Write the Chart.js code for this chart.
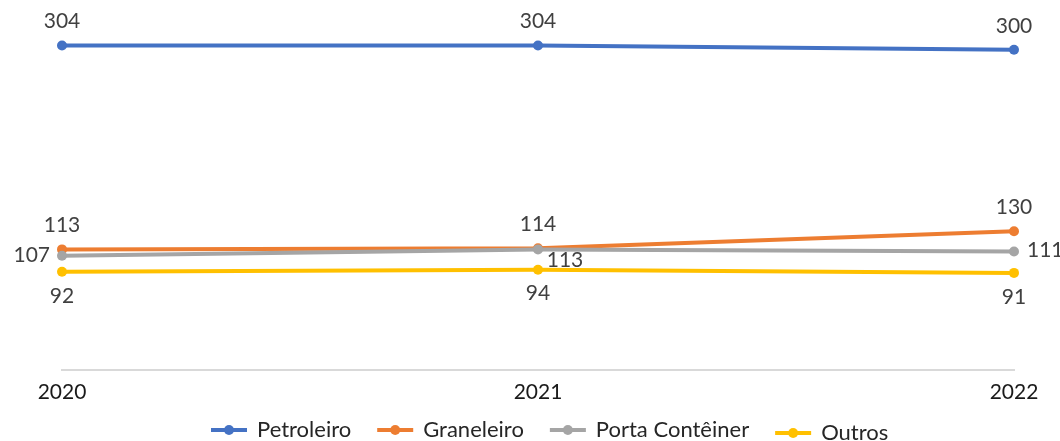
<!DOCTYPE html>
<html>
<head>
<meta charset="utf-8">
<script src="https://cdn.jsdelivr.net/npm/chart.js@4/dist/chart.umd.min.js"></script>
<style>
  html, body { margin: 0; padding: 0; background: #fff; }
  #wrap { width: 1060px; height: 441px; position: relative; }
</style>
</head>
<body>
<div id="wrap"><canvas id="c" width="1060" height="441"></canvas></div>
<script>
const categories = ['2020', '2021', '2022'];
const seriesNames = ['Petroleiro', 'Graneleiro', 'Porta Contêiner', 'Outros'];
const petroleiro = [304, 304, 300];
const graneleiro = [113, 114, 130];
const portaConteiner = [107, 113, 111];
const outros = [92, 94, 91];

const colors = ['#4472C4', '#ED7D31', '#A5A5A5', '#FFC000'];
const FONT = 'Lato, "Open Sans", sans-serif';

// label placement per dataset / per point (styling only)
const labelPlacement = [
  ['top', 'top', 'top'],
  ['top', 'top', 'top'],
  ['left', 'custom', 'right'],
  ['bottom', 'bottom', 'bottom']
];

const labelPlugin = {
  id: 'valueLabels',
  afterDatasetsDraw(chart) {
    const ctx = chart.ctx;
    ctx.save();
    ctx.font = '21px ' + FONT;
    ctx.fillStyle = '#404040';
    chart.data.datasets.forEach((ds, di) => {
      const meta = chart.getDatasetMeta(di);
      meta.data.forEach((pt, i) => {
        const v = ds.data[i];
        const pos = labelPlacement[di][i];
        let x = pt.x, y = pt.y;
        ctx.textBaseline = 'middle';
        if (pos === 'top') { ctx.textAlign = 'center'; y -= 24; }
        else if (pos === 'bottom') { ctx.textAlign = 'center'; y += 24; }
        else if (pos === 'left') { ctx.textAlign = 'right'; x -= 12; y -= 1; }
        else if (pos === 'right') { ctx.textAlign = 'left'; x += 13; y -= 1; }
        else { ctx.textAlign = 'center'; x += 27; y += 11; }
        ctx.fillText(String(v), x, y);
      });
    });
    ctx.restore();
  }
};

const legendPlugin = {
  id: 'customLegend',
  afterDraw(chart) {
    const ctx = chart.ctx;
    ctx.save();
    ctx.font = '22px ' + FONT;
    ctx.textBaseline = 'middle';
    ctx.textAlign = 'left';
    let x = 211;
    seriesNames.forEach((name, i) => {
      const y = i === 3 ? 433 : 430;
      ctx.strokeStyle = colors[i];
      ctx.lineWidth = 4;
      ctx.beginPath();
      ctx.moveTo(x, y);
      ctx.lineTo(x + 36, y);
      ctx.stroke();
      ctx.fillStyle = colors[i];
      ctx.beginPath();
      ctx.arc(x + 18, y, 5, 0, Math.PI * 2);
      ctx.fill();
      ctx.fillStyle = '#262626';
      ctx.fillText(name, x + 46, y);
      x += 46 + ctx.measureText(name).width + 26;
    });
    ctx.restore();
  }
};

const seriesData = [petroleiro, graneleiro, portaConteiner, outros];

new Chart(document.getElementById('c'), {
  type: 'line',
  data: {
    labels: categories,
    datasets: seriesData.map((d, i) => ({
      label: seriesNames[i],
      data: d,
      borderColor: colors[i],
      backgroundColor: colors[i],
      borderWidth: 4,
      pointRadius: 5,
      pointBorderWidth: 0,
      pointBackgroundColor: colors[i],
      tension: 0,
      fill: false,
      order: 4 - i
    }))
  },
  options: {
    responsive: false,
    animation: false,
    devicePixelRatio: 1,
    layout: { padding: { left: 62, right: 46, top: 0, bottom: 31 } },
    plugins: { legend: { display: false }, tooltip: { enabled: false } },
    scales: {
      x: {
        offset: false,
        grid: { display: false, drawTicks: false },
        border: { display: true, color: '#D9D9D9', width: 2 },
        ticks: { color: '#1a1a1a', font: { family: FONT, size: 21 }, padding: 10, maxRotation: 0 },
        afterFit(scale) { scale.height = 40; }
      },
      y: {
        display: false,
        min: 0,
        max: 342
      }
    }
  },
  plugins: [labelPlugin, legendPlugin]
});
</script>
</body>
</html>
